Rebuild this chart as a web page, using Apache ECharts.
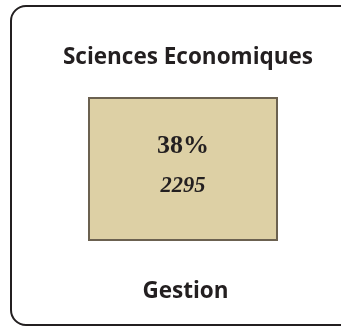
<!DOCTYPE html>
<html>
<head>
<meta charset="utf-8">
<script src="https://cdn.jsdelivr.net/npm/echarts@6/dist/echarts.min.js"></script>
<style>html,body{margin:0;padding:0;background:#fff}#c{width:341px;height:327px}</style>
</head>
<body>
<div id="c"></div>
<script>
const chartTitle = "Sciences Economiques";
const categories = ["Gestion"];
const percents = ["38%"];
const counts = [2295];

const chart = echarts.init(document.getElementById('c'), null, {renderer: 'canvas'});
chart.setOption({
  animation: false,
  title: [
    {text: chartTitle, left: 183, top: 53, textAlign: 'center', textVerticalAlign: 'middle',
     textStyle: {fontFamily: 'Open Sans', fontWeight: 'bold', fontSize: 22.5, color: '#231f20'}},
    {text: categories[0], left: 180.5, top: 287, textAlign: 'center', textVerticalAlign: 'middle',
     textStyle: {fontFamily: 'Open Sans', fontWeight: 'bold', fontSize: 22.5, color: '#231f20'}}
  ],
  graphic: [{
    type: 'rect', silent: true,
    shape: {x: 11, y: 6, width: 345, height: 319, r: 15},
    style: {fill: 'none', stroke: '#231f20', lineWidth: 2}
  }],
  series: [{
    type: 'treemap',
    left: 88, top: 97, width: 190, height: 144,
    roam: false, nodeClick: false,
    breadcrumb: {show: false},
    levels: [{itemStyle: {color: '#ddd0a5', borderColor: '#6b6150', borderWidth: 1, gapWidth: 0}}],
    itemStyle: {color: '#ddd0a5', borderColor: '#6b6150', borderWidth: 1, gapWidth: 0},
    label: {
      show: true, position: 'inside', align: 'center',
      padding: [27, 0, 0, 0],
      formatter: function (p) { return '{p|' + p.data.pct + '}\n{n|' + p.data.cnt + '}'; },
      rich: {
        p: {fontFamily: 'Liberation Serif', fontWeight: 'bold', fontSize: 26, color: '#231f20', lineHeight: 40, align: 'center'},
        n: {fontFamily: 'Liberation Serif', fontStyle: 'italic', fontWeight: 'bold', fontSize: 22.5, color: '#231f20', lineHeight: 40, align: 'center'}
      }
    },
    data: categories.map((c, i) => ({name: c, value: counts[i], pct: percents[i], cnt: counts[i],
      itemStyle: {color: '#ddd0a5', borderColor: '#6b6150', borderWidth: 1}}))
  }]
});
</script>
</body>
</html>
